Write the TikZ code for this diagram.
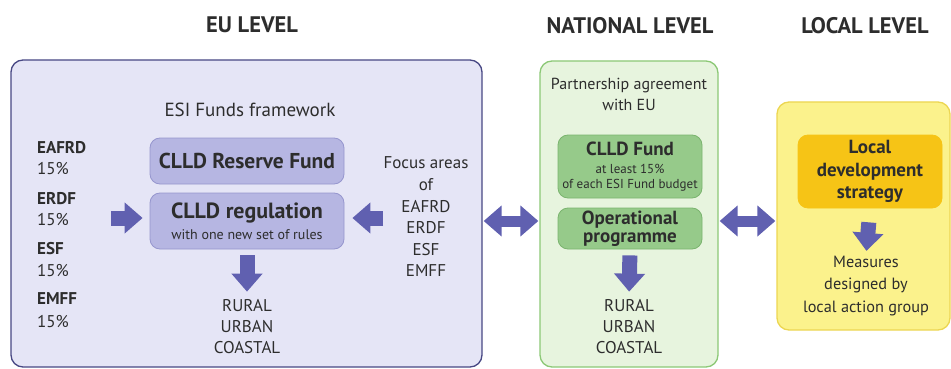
\documentclass[tikz,border=0pt]{standalone}
\usepackage{fontspec}
\setmainfont{PT Sans}
\usetikzlibrary{arrows.meta,positioning}

\definecolor{textGray}{RGB}{45,45,45}
\definecolor{euFill}{RGB}{229,229,246}
\definecolor{euLine}{RGB}{72,72,132}
\definecolor{euInner}{RGB}{182,182,226}
\definecolor{euInnerLine}{RGB}{150,150,206}
\definecolor{natFill}{RGB}{231,244,222}
\definecolor{natLine}{RGB}{140,200,118}
\definecolor{natInner}{RGB}{150,202,138}
\definecolor{natInnerLine}{RGB}{122,180,110}
\definecolor{locFill}{RGB}{251,242,140}
\definecolor{locLine}{RGB}{236,214,82}
\definecolor{locInner}{RGB}{246,196,22}
\definecolor{arrowBlue}{RGB}{96,96,176}

\tikzset{
	lvltext/.style = {font=\fontsize{22.5}{24}\selectfont\bfseries, text=textGray},
	bodytext/.style = {font=\fontsize{17}{21}\selectfont, text=textGray, align=center, inner sep=0pt},
	fundname/.style = {font=\fontsize{17}{21}\selectfont\bfseries, text=textGray, inner sep=0pt},
	outerbox/.style = {draw, rounded corners=12pt, line width=1.3pt},
	innerbox/.style = {draw, rounded corners=10pt, line width=0.8pt, text=textGray, align=center, inner sep=0pt},
	fatarrow/.style = {arrowBlue, line width=15pt, -{Triangle[length=18pt,width=30pt]}},
	twoarrow/.style = {arrowBlue, line width=11pt, {Triangle[length=18pt,width=30pt]}-{Triangle[length=18pt,width=30pt]}}
}

\begin{document}
\begin{tikzpicture}[x=1pt,y=-1pt]
	\useasboundingbox (0,0) rectangle (951,369);
	% levels
	\node[lvltext] (eulevel) at (252,25) {EU LEVEL};
	\node[lvltext] (natlevel) at (630,26) {NATIONAL LEVEL};
	\node[lvltext] (loclevel) at (865,26) {LOCAL LEVEL};

	% outer boxes
	\node[outerbox, draw=euLine, fill=euFill, minimum width=471, minimum height=307] (eu) at (246.5,213.5) {};
	\node[outerbox, draw=natLine, fill=natFill, minimum width=178, minimum height=306] (nat) at (629,214) {};
	\node[outerbox, draw=locLine, fill=locFill, minimum width=173, minimum height=228] (loc) at (863.5,216) {};

	% EU level
	\node[bodytext, font=\fontsize{19}{21}\selectfont] (framework) at (250,110) {ESI Funds framework};
	\foreach \fund [count=\i from 0] in {EAFRD,ERDF,ESF,EMFF}{
		\node[fundname, anchor=west] (\fund) at (37,{148+50.3*\i}) {\fund};
		\node[bodytext, anchor=west] (\fund-pc) at (37,{169+50.8*\i}) {15\%};
	}
	\node[innerbox, draw=euInnerLine, fill=euInner, minimum width=194, minimum height=46,
		font=\fontsize{21.5}{22}\selectfont\bfseries] (reserve) at (247,161) {CLLD Reserve Fund};
	\node[innerbox, draw=euInnerLine, fill=euInner, minimum width=194, minimum height=56,
		font=\fontsize{14}{21}\selectfont] (reg) at (247,221)
		{{\fontsize{22}{22}\selectfont\bfseries CLLD regulation}\\with one new set of rules};
	\node[bodytext, font=\fontsize{17}{21.6}\selectfont] (focus) at (426,217) {Focus areas\\of\\EAFRD\\ERDF\\ESF\\EMFF};
	\node[bodytext] (eurural) at (247,327) {RURAL\\URBAN\\COASTAL};
	\coordinate (fundsin) at (111,218);
	\coordinate (focusin) at (383,218);
	\draw[fatarrow, shorten >=7pt] (fundsin) -- (reg.west |- fundsin);
	\draw[fatarrow, shorten >=8pt] (focusin) -- (reg.east |- focusin);
	\draw[fatarrow, shorten <=6pt, shorten >=8pt] (reg.south) -- (eurural.north);

	% national level
	\node[bodytext, font=\fontsize{16}{21}\selectfont] (partner) at (629,94.5) {Partnership agreement\\with EU};
	\node[innerbox, draw=natInnerLine, fill=natInner, minimum width=144, minimum height=63,
		font=\fontsize{13}{15}\selectfont] (cllfund) at (630,166.5)
		{{\fontsize{19}{19}\selectfont\bfseries CLLD Fund}\\[3pt]at least 15\%\\of each ESI Fund budget};
	\node[innerbox, draw=natInnerLine, fill=natInner, minimum width=144, minimum height=41,
		font=\fontsize{19}{18.5}\selectfont\bfseries] (opprog) at (630,228.5) {Operational\\programme};
	\node[bodytext] (natrural) at (629,327) {RURAL\\URBAN\\COASTAL};
	\draw[fatarrow, shorten <=6pt, shorten >=8pt] (opprog.south) -- (natrural.north);

	% local level
	\node[innerbox, draw=locInner, fill=locInner, minimum width=144, minimum height=73,
		font=\fontsize{19}{22.5}\selectfont\bfseries] (lds) at (870,171.5) {Local\\development\\strategy};
	\node[bodytext, font=\fontsize{16.3}{22.5}\selectfont] (measures) at (866,286) {Measures\\designed by\\local action group};
	\draw[fatarrow, shorten <=14pt, shorten >=5pt] (lds.south) -- (measures.north);

	% between levels
	\draw[twoarrow, shorten <=1pt, shorten >=1pt] (eu.east |- reg.east) -- (nat.west |- reg.east);
	\draw[twoarrow, shorten <=1pt, shorten >=1pt] (nat.east |- reg.east) -- (loc.west |- reg.east);
\end{tikzpicture}
\end{document}
